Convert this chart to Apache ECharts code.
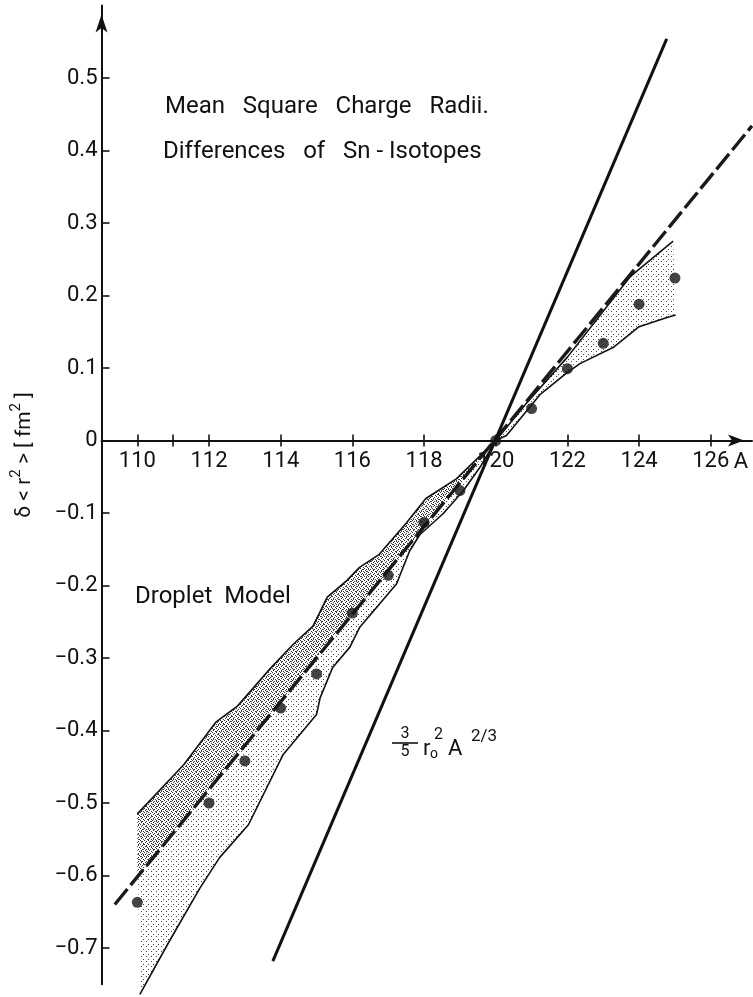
<!DOCTYPE html>
<html>
<head>
<meta charset="utf-8">
<script src="https://cdn.jsdelivr.net/npm/echarts@6/dist/echarts.min.js"></script>
<style>
  html, body { margin: 0; padding: 0; background: #fff; }
  #chart { width: 753px; height: 997px; }
</style>
</head>
<body>
<div id="chart"></div>
<script>
// Sn isotopes: mass number A and measured δ<r²> in fm², relative to 120Sn
const massNumbers = [110, 112, 113, 114, 115, 116, 117, 118, 119, 120, 121, 122, 123, 124, 125];
const deltaR2 = [-0.637, -0.500, -0.442, -0.369, -0.322, -0.238, -0.186, -0.113, -0.069, 0, 0.044, 0.099, 0.134, 0.188, 0.224];

// Uncertainty band, upper and lower edges as [A, δ<r²>]
const bandUpper = [
  [110, -0.515], [111.3, -0.447], [112.2, -0.388], [112.8, -0.366], [113.7, -0.315],
  [114.35, -0.281], [114.9, -0.256], [115.3, -0.216], [115.85, -0.193], [116.2, -0.175],
  [116.75, -0.157], [117.5, -0.114], [118.05, -0.080], [118.9, -0.053], [120, 0],
  [120.85, 0.051], [122, 0.115], [123.75, 0.226], [124.95, 0.275]
];
const bandLower = [
  [110.07, -0.764], [110.9, -0.690], [111.75, -0.617], [112.3, -0.575], [113.1, -0.530],
  [114.07, -0.433], [115.0, -0.378], [115.1, -0.355], [115.45, -0.313], [115.93, -0.285],
  [116.2, -0.258], [117.23, -0.198], [117.6, -0.152], [117.88, -0.130], [118.53, -0.101],
  [119.1, -0.069], [119.56, -0.037], [120, 0], [120.3, 0.007], [121.25, 0.064],
  [122.0, 0.094], [122.35, 0.106], [123.3, 0.129], [124.0, 0.157], [124.8, 0.170], [125.02, 0.173]
];
// Lower limit of the densely stippled part of the band
const denseEdge = [[110, -0.600], [120, 0]];

// Model lines
const dropletModel = [[109.37, -0.640], [127.15, 0.434]];
const sphereModel = [[113.78, -0.718], [124.77, 0.554]];

// Axis ticks and labels
const xTickValues = [110, 111, 112, 114, 116, 118, 120, 122, 124, 126];
const xLabelValues = [110, 112, 114, 116, 118, 120, 122, 124, 126];
const yLabelValues = [0.5, 0.4, 0.3, 0.2, 0.1, 0, -0.1, -0.2, -0.3, -0.4, -0.5, -0.6, -0.7];

const FONT = 'Roboto';
const INK = '#111';

function stipple(size, dots, color) {
  const c = document.createElement('canvas');
  c.width = c.height = size;
  const g = c.getContext('2d');
  g.fillStyle = color;
  dots.forEach(([x, y]) => g.fillRect(x, y, 1, 1));
  return c;
}
const lightDots = { image: stipple(5, [[1, 1], [3, 4]], '#444'), repeat: 'repeat' };
const denseDots = { image: stipple(4, [[0, 0], [2, 1], [1, 2], [3, 3]], '#333'), repeat: 'repeat' };

function polygonSeries(points, fill, z) {
  return {
    type: 'custom',
    coordinateSystem: 'cartesian2d',
    xAxisIndex: 0, yAxisIndex: 0,
    silent: true,
    clip: false,
    z: z,
    data: [points[0]],
    renderItem: (params, api) => ({
      type: 'polygon',
      shape: { points: points.map(p => api.coord(p)) },
      style: { fill: fill }
    })
  };
}

function lineSeries(points, style, z) {
  return {
    type: 'line',
    xAxisIndex: 0, yAxisIndex: 0,
    data: points,
    showSymbol: false,
    clip: false,
    silent: true,
    z: z,
    lineStyle: style
  };
}

const bandPolygon = bandUpper.concat(bandLower.slice().reverse());
const densePolygon = bandUpper.filter(p => p[0] <= 120).concat(denseEdge.slice().reverse());

const yFmt = v => v === 0 ? '0' : (v < 0 ? '\u2212' + (-v).toFixed(1) : v.toFixed(1));

const axisLineStyle = { color: INK, width: 2 };
const tickStyle = { color: INK, width: 1.6 };
const A_MIN = 109, A_MAX = 127.15;

const chart = echarts.init(document.getElementById('chart'), null, { renderer: 'canvas' });
chart.setOption({
  animation: false,
  backgroundColor: '#fff',
  grid: [
    // plotting area
    { left: 101.5, right: 1, top: 5.5, bottom: 12.75 },
    // upper half, its bottom edge carries the A axis at δ<r²> = 0
    { left: 101.5, right: 1, top: 5.5, height: 435 }
  ],
  xAxis: [
    { type: 'value', gridIndex: 0, min: A_MIN, max: A_MAX, show: false },
    {
      type: 'value', gridIndex: 1, min: A_MIN, max: A_MAX, position: 'bottom',
      axisLine: { onZero: false, lineStyle: axisLineStyle,
        symbol: ['none', 'arrow'], symbolSize: [9, 16], symbolOffset: [0, -8] },
      axisTick: { show: true, inside: false, length: 6, lineStyle: tickStyle, customValues: xTickValues },
      axisLabel: { show: true, margin: 10, color: INK, fontFamily: FONT, fontSize: 22, customValues: xLabelValues },
      splitLine: { show: false }
    },
    {
      type: 'value', gridIndex: 1, min: A_MIN, max: A_MAX, position: 'bottom',
      axisLine: { show: false, onZero: false },
      axisTick: { show: true, inside: true, length: 6, lineStyle: tickStyle, customValues: xTickValues },
      axisLabel: { show: false },
      splitLine: { show: false }
    }
  ],
  yAxis: [
    {
      type: 'value', gridIndex: 0, min: -0.75, max: 0.6,
      axisLine: { onZero: false, lineStyle: axisLineStyle, symbol: ['none', 'arrow'], symbolSize: [9, 18], symbolOffset: [0, -9] },
      axisTick: { show: true, inside: true, length: 8, lineStyle: tickStyle, customValues: yLabelValues },
      axisLabel: { show: true, margin: 4, color: INK, fontFamily: FONT, fontSize: 22,
        customValues: yLabelValues, formatter: yFmt },
      splitLine: { show: false }
    },
    { type: 'value', gridIndex: 1, min: 0, max: 0.6, show: false }
  ],
  series: [
    polygonSeries(bandPolygon, lightDots, 1),
    polygonSeries(densePolygon, denseDots, 2),
    lineSeries(bandUpper, { color: INK, width: 1.6 }, 3),
    lineSeries(bandLower, { color: INK, width: 1.6 }, 3),
    lineSeries(dropletModel, { color: '#1a1a1a', width: 3.4, type: [20, 5] }, 4),
    lineSeries(sphereModel, { color: INK, width: 3 }, 4),
    {
      type: 'scatter',
      xAxisIndex: 0, yAxisIndex: 0,
      data: massNumbers.map((a, i) => [a, deltaR2[i]]),
      symbol: 'circle',
      symbolSize: 11,
      itemStyle: { color: '#151515' },
      silent: true,
      z: 5
    }
  ],
  graphic: [
    { type: 'text', x: 165, y: 107, style: { text: 'Mean   Square   Charge   Radii.', font: '24px ' + FONT, fill: INK, verticalAlign: 'middle' } },
    { type: 'text', x: 163, y: 152, style: { text: 'Differences   of   Sn - Isotopes', font: '24px ' + FONT, fill: INK, verticalAlign: 'middle' } },
    { type: 'text', x: 135, y: 597, style: { text: 'Droplet  Model', font: '24px ' + FONT, fill: INK, verticalAlign: 'middle' } },
    { type: 'text', x: 741, y: 462, style: { text: 'A', font: '22px ' + FONT, fill: INK, align: 'center', verticalAlign: 'middle' } },
    { type: 'text', x: 22, y: 455, rotation: Math.PI / 2,
      style: {
        text: '{n|δ < r}{s|2}{n| > [ fm}{s|2}{n| ]}',
        align: 'center', verticalAlign: 'middle',
        rich: {
          n: { fontFamily: FONT, fontSize: 21, fill: INK, color: INK, lineHeight: 26, verticalAlign: 'bottom' },
          s: { fontFamily: FONT, fontSize: 15, fill: INK, color: INK, lineHeight: 26, verticalAlign: 'top' }
        }
      } },
    // 3/5 r0² A^(2/3)
    { type: 'text', x: 405, y: 734, style: { text: '3', font: '16px ' + FONT, fill: INK, align: 'center', verticalAlign: 'middle' } },
    { type: 'line', shape: { x1: 392, y1: 743, x2: 418, y2: 743 }, style: { stroke: INK, lineWidth: 1.6 } },
    { type: 'text', x: 405, y: 752, style: { text: '5', font: '16px ' + FONT, fill: INK, align: 'center', verticalAlign: 'middle' } },
    { type: 'text', x: 423, y: 749, style: { text: 'r', font: '22px ' + FONT, fill: INK, verticalAlign: 'middle' } },
    { type: 'text', x: 430, y: 754, style: { text: 'o', font: '14px ' + FONT, fill: INK, verticalAlign: 'middle' } },
    { type: 'text', x: 434, y: 735, style: { text: '2', font: '16px ' + FONT, fill: INK, verticalAlign: 'middle' } },
    { type: 'text', x: 448, y: 749, style: { text: 'A', font: '22px ' + FONT, fill: INK, verticalAlign: 'middle' } },
    { type: 'text', x: 471, y: 737, style: { text: '2/3', font: '17px ' + FONT, fill: INK, verticalAlign: 'middle' } }
  ]
});
</script>
</body>
</html>
